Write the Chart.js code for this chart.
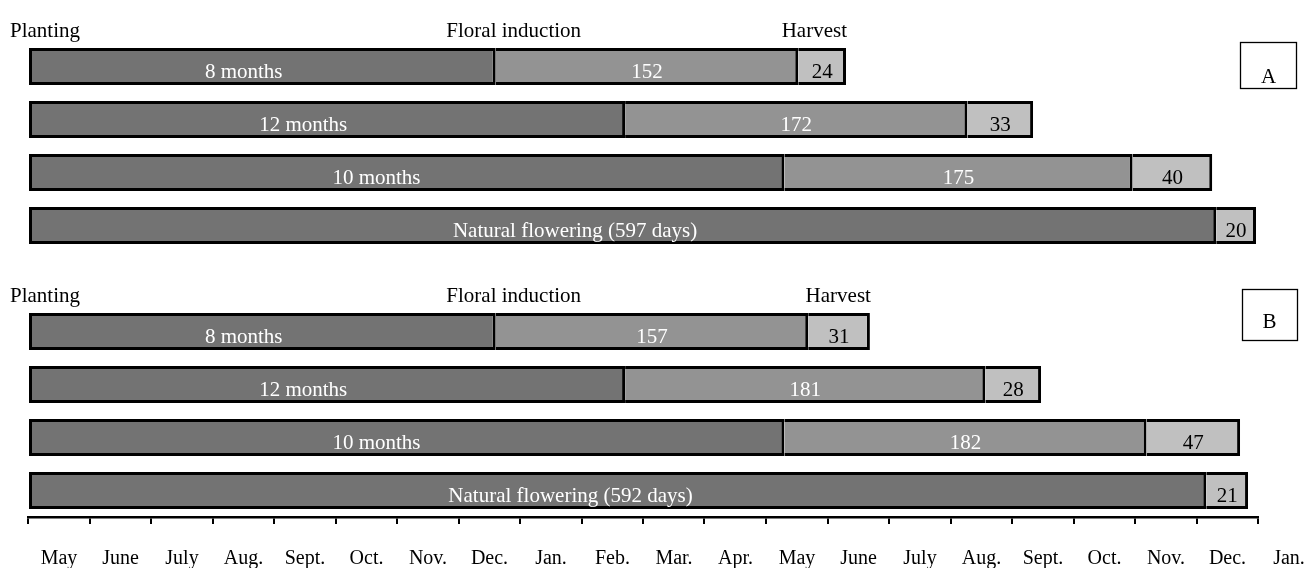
<!DOCTYPE html>
<html>
<head>
<meta charset="utf-8">
<script src="https://cdn.jsdelivr.net/npm/chart.js@4.4.1/dist/chart.umd.min.js"></script>
<style>
  html, body { margin: 0; padding: 0; background: #fff; }
</style>
</head>
<body>
<canvas id="chart" width="1312" height="568"></canvas>
<script>
// rows: panel A (0-3), spacer (4), panel B (5-8)
const rows = ["8 months", "12 months", "10 months", "Natural flowering (597 days)", "",
              "8 months", "12 months", "10 months", "Natural flowering (592 days)"];
// days from planting to floral induction (or to flowering for natural)
const toInduction = [235, 300, 380, 597, null, 235, 300, 380, 592];
// days from induction to harvest start
const toHarvest = [152, 172, 175, null, null, 157, 181, 182, null];
// harvest duration, days
const harvestDays = [24, 33, 40, 20, null, 31, 28, 47, 21];
const months = ["May", "June", "July", "Aug.", "Sept.", "Oct.", "Nov.", "Dec.", "Jan.", "Feb.",
                "Mar.", "Apr.", "May", "June", "July", "Aug.", "Sept.", "Oct.", "Nov.", "Dec.", "Jan."];
const axisDays = 618;
const panels = [{ row: 0, name: "A" }, { row: 5, name: "B" }];

const FAMILY = '"Liberation Serif", "Times New Roman", serif';
const FONT = '21px ' + FAMILY;

const sideBorder = (left) => ({ top: 3, bottom: 3, left: left, right: 3 });

// text on bars, stage labels above each panel, and the A/B boxes
const annotate = {
  id: "annotate",
  afterDatasetsDraw(chart) {
    const ctx = chart.ctx, x = chart.scales.x;
    ctx.save();
    ctx.font = FONT;
    ctx.textBaseline = "alphabetic";
    chart.data.datasets.forEach((ds, di) => {
      chart.getDatasetMeta(di).data.forEach((bar, i) => {
        if (ds.data[i] == null) return;
        const left = Math.min(bar.x, bar.base), right = Math.max(bar.x, bar.base);
        let text, cx;
        if (di === 0) {
          text = rows[i];
          cx = left + 0.46 * (right - left);
          ctx.fillStyle = "#fff";
        } else {
          text = String(ds.data[i]);
          cx = (left + right) / 2;
          ctx.fillStyle = di === 1 ? "#fff" : "#000";
        }
        ctx.textAlign = "center";
        ctx.fillText(text, cx, bar.y + 11);
      });
    });

    ctx.fillStyle = "#000";
    panels.forEach(p => {
      const r = p.row;
      const bar = chart.getDatasetMeta(0).data[r];
      const base = bar.y - bar.height / 2 - 11;
      ctx.textAlign = "left";
      ctx.fillText("Planting", 10, base);
      const ind = x.getPixelForValue(toInduction[r]);
      ctx.textAlign = "center";
      ctx.fillText("Floral induction", ind + 18, base);
      const end = x.getPixelForValue(toInduction[r] + toHarvest[r] + harvestDays[r]);
      ctx.textAlign = "right";
      ctx.fillText("Harvest", end + 1, base);
    });

    // panel letter boxes
    ctx.strokeStyle = "#000";
    ctx.lineWidth = 1.3;
    ctx.strokeRect(1240.5, 42.5, 56, 46);
    ctx.strokeRect(1242.5, 289.5, 55, 51);
    ctx.textAlign = "center";
    ctx.fillText("A", 1268.5, 83);
    ctx.fillText("B", 1269.5, 328);
    ctx.restore();
  }
};

new Chart(document.getElementById("chart"), {
  type: "bar",
  data: {
    labels: rows,
    datasets: [
      {
        label: "Planting to induction",
        data: toInduction,
        backgroundColor: "#737373",
        borderColor: "#000",
        borderWidth: sideBorder(3),
        borderSkipped: false
      },
      {
        label: "Induction to harvest",
        data: toHarvest,
        backgroundColor: "#939393",
        borderColor: "#000",
        borderWidth: sideBorder(0),
        borderSkipped: false
      },
      {
        label: "Harvest",
        data: harvestDays,
        backgroundColor: "#c0c0c0",
        borderColor: "#000",
        borderWidth: sideBorder(0),
        borderSkipped: false
      }
    ]
  },
  options: {
    indexAxis: "y",
    responsive: false,
    animation: false,
    devicePixelRatio: 1,
    barPercentage: 0.7,
    categoryPercentage: 1.0,
    layout: { padding: { left: 28, right: 54, top: 40, bottom: -26 } },
    plugins: { legend: { display: false }, tooltip: { enabled: false } },
    scales: {
      x: {
        type: "linear",
        stacked: true,
        min: 0,
        max: axisDays,
        position: "bottom",
        afterBuildTicks: axis => {
          axis.ticks = months.map((m, i) => ({ value: i * axisDays / (months.length - 1) }));
        },
        grid: { drawOnChartArea: false, drawTicks: true, tickLength: 7, color: "#000", lineWidth: 2 },
        border: { display: true, color: "#000", width: 2.5 },
        ticks: {
          autoSkip: false,
          maxRotation: 0,
          labelOffset: 31,
          padding: 2,
          color: "#000",
          font: { family: FAMILY, size: 20, lineHeight: 3.3 },
          callback: (v, i) => months[i]
        }
      },
      y: {
        type: "category",
        stacked: true,
        display: false
      }
    }
  },
  plugins: [annotate]
});
</script>
</body>
</html>
